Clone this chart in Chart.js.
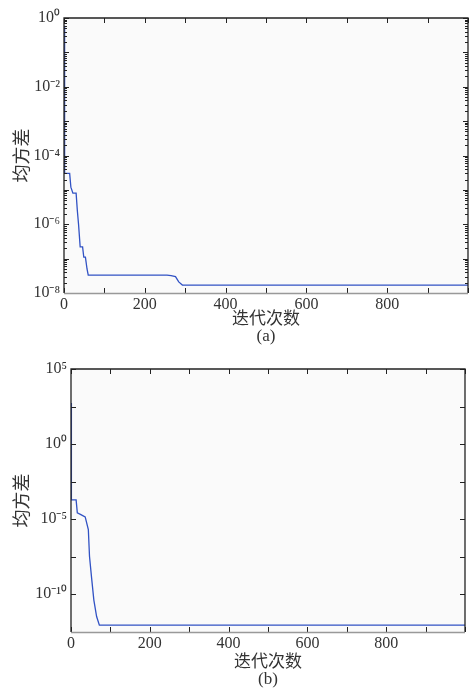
<!DOCTYPE html>
<html>
<head>
<meta charset="utf-8">
<script src="https://cdn.jsdelivr.net/npm/chart.js@4"></script>
<style>
  html, body { margin: 0; padding: 0; background: #fff; }
  #wrap_a { position: absolute; left: 0; top: 0; width: 474px; height: 345px; }
  #wrap_b { position: absolute; left: 0; top: 345px; width: 474px; height: 343px; }
</style>
</head>
<body>
<div id="wrap_a"><canvas id="chart_a"></canvas></div>
<div id="wrap_b"><canvas id="chart_b"></canvas></div>
<script>
// (a) mean square error vs iteration
const iter_a = [0, 1, 2, 14, 17, 22, 30, 33, 36, 40, 46, 49, 53, 57, 60, 255, 265, 276, 284, 293, 1000];
const mse_a = [0.6, 0.01, 3e-5, 3e-5, 1.2e-5, 8e-6, 8e-6, 2.5e-6, 1e-6, 2.2e-7, 2.2e-7, 1.1e-7, 1.1e-7, 5e-8, 3.3e-8, 3.3e-8, 3.2e-8, 3e-8, 2.1e-8, 1.7e-8, 1.7e-8];
const ytick_vals_a = [1, 1e-2, 1e-4, 1e-6, 1e-8];
const ytick_labels_a = ["10⁰", "10⁻²", "10⁻⁴", "10⁻⁶", "10⁻⁸"];

// (b)
const iter_b = [0, 1, 13, 16, 25, 36, 44, 47, 52, 58, 65, 72, 1000];
const mse_b = [540, 1.9e-4, 1.9e-4, 2.6e-5, 2e-5, 1.4e-5, 2e-6, 3.2e-8, 1.4e-9, 4e-11, 3.2e-12, 8.5e-13, 8.5e-13];
const ytick_vals_b = [1e5, 1, 1e-5, 1e-10];
const ytick_labels_b = ["10⁵", "10⁰", "10⁻⁵", "10⁻¹⁰"];

const xtitle = "迭代次数";
const ytitle = "均方差";
const FONT = "'Liberation Serif','Noto Sans CJK SC',serif";

// frame with inward ticks, MATLAB style
const frameTicks = {
  id: "frameTicks",
  beforeDatasetsDraw(chart) {
    const ctx = chart.ctx, a = chart.chartArea;
    ctx.save();
    ctx.fillStyle = "#fafafa";
    ctx.fillRect(a.left, a.top, a.right - a.left, a.bottom - a.top);
    ctx.restore();
  },
  afterDatasetsDraw(chart, args, opts) {
    const ctx = chart.ctx, a = chart.chartArea;
    const xs = chart.scales.x, ys = chart.scales.y;
    ctx.save();
    ctx.lineWidth = 1;
    ctx.strokeStyle = "#222";
    for (let v = 0; v <= 1000; v += 100) {
      const px = Math.round(xs.getPixelForValue(v)) + 0.5;
      ctx.beginPath();
      ctx.moveTo(px, a.bottom); ctx.lineTo(px, a.bottom - 5);
      ctx.moveTo(px, a.top); ctx.lineTo(px, a.top + 5);
      ctx.stroke();
    }
    opts.yticks.forEach((t) => {
      const py = Math.round(ys.getPixelForValue(t.v)) + 0.5;
      ctx.beginPath();
      ctx.moveTo(a.left, py); ctx.lineTo(a.left + t.len, py);
      ctx.moveTo(a.right, py); ctx.lineTo(a.right - t.len, py);
      ctx.stroke();
    });
    ctx.lineWidth = 1.3;
    ctx.beginPath();
    ctx.moveTo(a.left, a.bottom);
    ctx.lineTo(a.left, a.top);
    ctx.lineTo(a.right, a.top);
    ctx.lineTo(a.right, a.bottom);
    ctx.stroke();
    ctx.strokeStyle = "#999";
    ctx.beginPath();
    ctx.moveTo(a.left, a.bottom + 0.5); ctx.lineTo(a.right, a.bottom + 0.5);
    ctx.stroke();
    ctx.restore();
  },
};

function makeChart(id, xs, ys, cfg) {
  const pts = xs.map((x, i) => ({ x: x, y: ys[i] }));
  return new Chart(document.getElementById(id).getContext("2d"), {
    type: "line",
    data: {
      datasets: [
        {
          data: pts,
          borderColor: "#3152c4",
          borderWidth: 1.3,
          pointRadius: 0,
          tension: 0,
        },
      ],
    },
    options: {
      responsive: true,
      maintainAspectRatio: false,
      animation: false,
      layout: { padding: cfg.padding },
      plugins: {
        legend: { display: false },
        tooltip: { enabled: false },
        frameTicks: { yticks: cfg.yticks },
      },
      scales: {
        x: {
          type: "linear",
          min: 0,
          max: 1000,
          grid: { display: false, drawTicks: false },
          border: { display: false },
          afterFit: (s) => { s.height = cfg.xHeight; },
          ticks: {
            stepSize: 200,
            padding: 2,
            maxRotation: 0,
            color: "#333",
            font: { family: FONT, size: 16 },
            callback: (v) => (v >= 1000 ? "" : v),
          },
          title: {
            display: true,
            text: [xtitle, cfg.tag],
            color: "#333",
            font: { family: FONT, size: 17, lineHeight: 1.0 },
            padding: { top: 4, bottom: 0 },
          },
        },
        y: {
          type: "logarithmic",
          min: cfg.ymin,
          max: cfg.ymax,
          grid: { display: false, drawTicks: false },
          border: { display: false },
          afterFit: (s) => { s.width = cfg.yWidth; },
          afterBuildTicks: (s) => {
            s.ticks = cfg.tickVals.map((v) => ({ value: v }));
          },
          ticks: {
            padding: 4,
            color: "#333",
            font: { family: FONT, size: 16 },
            callback: (v) => {
              const i = cfg.tickVals.findIndex((t) => Math.abs(Math.log10(t) - Math.log10(v)) < 1e-6);
              return i >= 0 ? cfg.tickLabels[i] : "";
            },
          },
          title: {
            display: true,
            text: ytitle,
            color: "#333",
            font: { family: FONT, size: 18 },
            padding: { top: 12, bottom: 0 },
          },
        },
      },
    },
    plugins: [frameTicks],
  });
}

// inward tick marks on the y axes
const yticks_a = [];
for (let e = 0; e >= -8; e--) {
  yticks_a.push({ v: Math.pow(10, e), len: 5 });
  if (e > -8) {
    for (let m = 2; m <= 9; m++) yticks_a.push({ v: m * Math.pow(10, e - 1), len: 3 });
  }
}
const yticks_b = [];
for (let e = 5; e >= -12.5; e -= 2.5) yticks_b.push({ v: Math.pow(10, e), len: 5 });

makeChart("chart_a", iter_a, mse_a, {
  padding: { top: 18, right: 6, left: 0, bottom: 0 },
  xHeight: 52,
  yWidth: 64,
  ymin: 1e-8,
  ymax: 1,
  tickVals: ytick_vals_a,
  tickLabels: ytick_labels_a,
  yticks: yticks_a,
  tag: "(a)",
});

makeChart("chart_b", iter_b, mse_b, {
  padding: { top: 24, right: 9, left: 0, bottom: 0 },
  xHeight: 56,
  yWidth: 71,
  ymin: Math.pow(10, -12.5),
  ymax: 1e5,
  tickVals: ytick_vals_b,
  tickLabels: ytick_labels_b,
  yticks: yticks_b,
  tag: "(b)",
});
</script>
</body>
</html>
